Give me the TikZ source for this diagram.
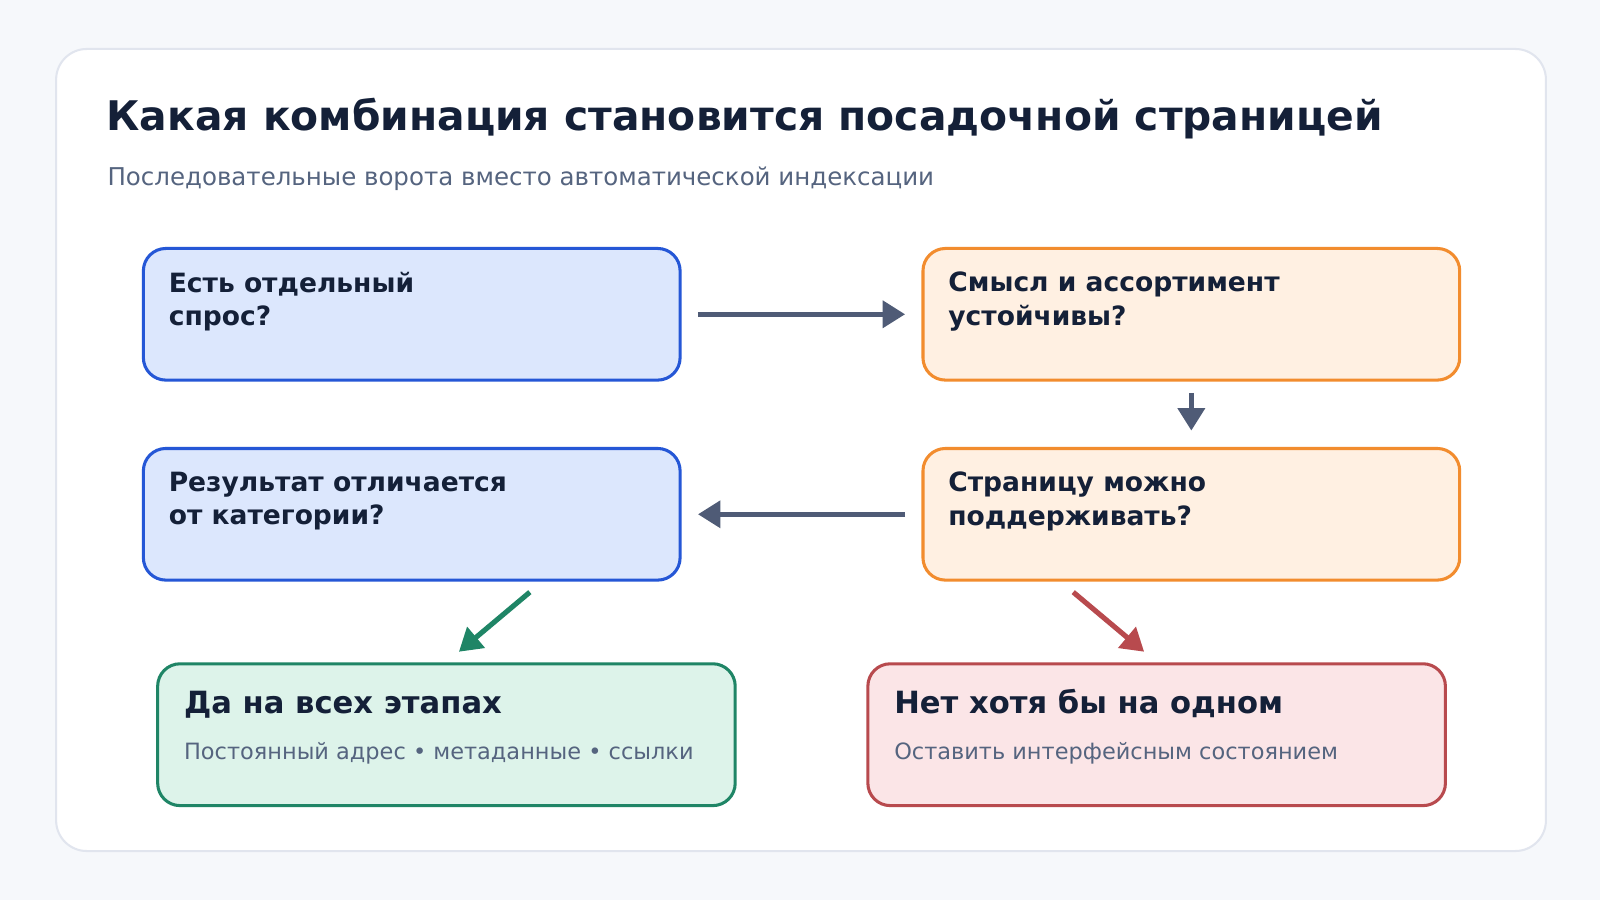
\documentclass[tikz,border=0pt]{standalone}
\usepackage{fontspec}
\setmainfont{DejaVu Sans}
\usetikzlibrary{arrows.meta,positioning}
\definecolor{bgc}{HTML}{F6F8FB}
\definecolor{cardline}{HTML}{E1E5EE}
\definecolor{ink}{HTML}{142038}
\definecolor{muted}{HTML}{55647F}
\definecolor{arr}{HTML}{4F5B76}
\definecolor{bluef}{HTML}{DCE7FD}\definecolor{blued}{HTML}{2557D6}
\definecolor{orf}{HTML}{FFF0E2}\definecolor{ord}{HTML}{F28C2E}
\definecolor{grf}{HTML}{DDF3EA}\definecolor{grd}{HTML}{1F8566}
\definecolor{rdf}{HTML}{FBE5E7}\definecolor{rdd}{HTML}{B84A4E}
\tikzset{
  box/.style={draw, line width=1.5pt, rounded corners=11pt, minimum width=263pt, minimum height=64.5pt, anchor=north west, inner sep=0pt},
  boxblue/.style={box, fill=bluef, draw=blued},
  boxor/.style={box, fill=orf, draw=ord},
  boxend/.style={box, minimum width=283pt, minimum height=69.5pt},
  lbl/.style={anchor=north west, inner sep=0pt, text=ink, font=\bfseries\fontsize{13}{16.5}\selectfont, align=left},
  flow/.style={line width=2.5pt, -{Triangle[length=11pt,width=13pt]}},
}
\begin{document}
\begin{tikzpicture}[x=0.5pt,y=-0.5pt]
  \fill[bgc] (0,0) rectangle (1568,882);
  \useasboundingbox (0,0) rectangle (1568,882);
  \draw[cardline, fill=white, line width=1pt, rounded corners=15pt] (55,48) rectangle (1515,834);

  % header
  \node[anchor=base west, inner sep=0pt, text=ink, font=\bfseries\fontsize{20}{24}\selectfont] (title) at (104,128) {Какая комбинация становится посадочной страницей};
  \node[anchor=base west, inner sep=0pt, text=muted, font=\fontsize{12}{14}\selectfont] (sub) at (105,182) {Последовательные ворота вместо автоматической индексации};

  % question boxes
  \node[boxblue] (demand) at (139,242) {};
  \node[boxor] (stable) at (903,242) {};
  \node[boxblue] (differ) at (139,438) {};
  \node[boxor] (keep) at (903,438) {};
  \node[lbl] at (165,266) {Есть отдельный\\спрос?};
  \node[lbl] at (929,266) {Смысл и ассортимент\\устойчивы?};
  \node[lbl] at (165,462) {Результат отличается\\от категории?};
  \node[lbl] at (929,462) {Страницу можно\\поддерживать?};

  % outcomes
  \node[boxend, fill=grf, draw=grd] (yes) at (153,649) {};
  \node[boxend, fill=rdf, draw=rdd] (no) at (849,649) {};
  \node[anchor=base west, inner sep=0pt, text=ink, font=\bfseries\fontsize{15}{18}\selectfont] at (180,699) {Да на всех этапах};
  \node[anchor=base west, inner sep=0pt, text=muted, font=\fontsize{11}{13}\selectfont] at (180,744) {Постоянный адрес • метаданные • ссылки};
  \node[anchor=base west, inner sep=0pt, text=ink, font=\bfseries\fontsize{15}{18}\selectfont] at (876,699) {Нет хотя бы на одном};
  \node[anchor=base west, inner sep=0pt, text=muted, font=\fontsize{11}{13}\selectfont] at (876,744) {Оставить интерфейсным состоянием};

  % connectors
  \coordinate (cOut) at ([xshift=64pt]differ.south);
  \coordinate (kOut) at ([xshift=-64pt]keep.south);
  \draw[flow, arr, shorten <=8pt, shorten >=8pt] (demand.east) -- (stable.west);
  \draw[flow, arr, shorten <=5.5pt, shorten >=8pt] (stable.south) -- (keep.north);
  \draw[flow, arr, shorten <=8pt, shorten >=8pt] (keep.west) -- (differ.east);
  \draw[flow, grd, shorten <=8pt, shorten >=8pt] (cOut) -- (yes.north);
  \draw[flow, rdd, shorten <=8pt, shorten >=8pt] (kOut) -- (no.north);
\end{tikzpicture}
\end{document}
